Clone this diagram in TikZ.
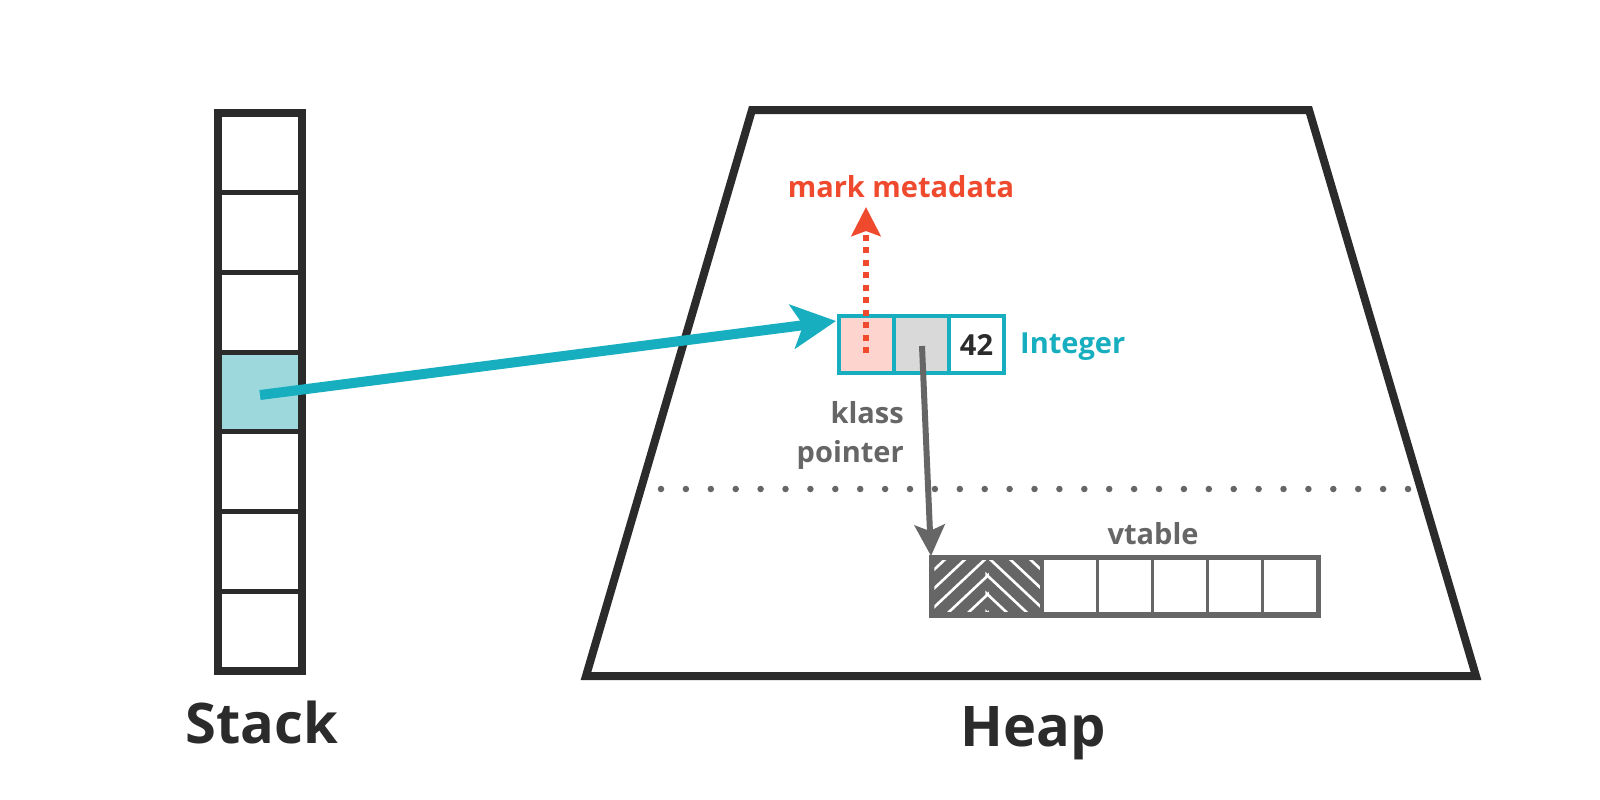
\documentclass[tikz,border=0pt]{standalone}
\usepackage{fontspec}
\setmainfont{Open Sans}
\usetikzlibrary{arrows.meta}
\definecolor{dark}{HTML}{2B2B2B}
\definecolor{tealc}{HTML}{17AFBF}
\definecolor{tealfill}{HTML}{9DD8DD}
\definecolor{redc}{HTML}{F04A2E}
\definecolor{pinkfill}{HTML}{FDD5CE}
\definecolor{lgrey}{HTML}{D9D9D9}
\definecolor{greyc}{HTML}{666666}
\tikzset{
  objcell/.style={draw=tealc, line width=4pt, minimum width=55pt, minimum height=57pt, inner sep=0pt},
  vcell/.style={draw=greyc, line width=3.5pt, minimum width=55.1pt, minimum height=56pt, inner sep=0pt},
  lbl/.style={font=\fontsize{29}{39}\selectfont\bfseries, inner sep=0pt},
  big/.style={font=\fontsize{56}{60}\selectfont\bfseries, text=dark, inner sep=0pt},
}
\begin{document}
\begin{tikzpicture}[x=1pt,y=-1pt]
\useasboundingbox[fill=white] (0,0) rectangle (1600,800);
% Stack
\fill[tealfill] (218,352.1) rectangle (302,431.8);
\foreach \y in {192.7,272.4,352.1,431.8,511.6,591.3}
  \draw[line width=5pt,dark] (218,\y) -- (302,\y);
\draw[line width=8pt,dark] (218,113) rectangle (302,671);
\coordinate (slot) at (260,395);
\node[big] (stacklbl) at (262,722) {Stack};
% Heap
\draw[line width=8pt,dark,line join=miter] (752,110) -- (1309,110) -- (1476,676) -- (586,676) -- cycle;
\node[big] (heaplbl) at (1033,733) {Heap};
% dotted separator
\coordinate (dl) at (661,489);
\coordinate (dr) at (1408,489);
\draw[greyc, line width=6.5pt, line cap=round, dash pattern=on 0pt off 24.9pt] (dl) -- (dr);
% Integer object
\node[objcell, fill=pinkfill] (mk) at (866.5,344.5) {};
\node[objcell, fill=lgrey] (kp) at (921.5,344.5) {};
\node[objcell, fill=white, lbl, text=dark] (val) at (976.5,344.5) {42};
\node[lbl, text=tealc, anchor=west] (intlbl) at (1020,347) {Integer};
% teal arrow
\coordinate (tip) at (836,321);
\draw[tealc, line width=10pt, -{Stealth[length=44pt,width=44pt,inset=11pt]}] (slot) -- (tip);
% mark metadata
\node[lbl, text=redc] (mmlbl) at (901,187) {mark metadata};
\coordinate (mmtip) at (866,207);
\draw[redc, line width=6pt, dash pattern=on 6pt off 6.5pt, -{Stealth[length=29pt,width=29pt,inset=5pt]}] (866,353) -- (mmtip);
% vtable
\foreach \i in {0,...,6}
  \node[vcell] (v\i) at (959.55+\i*55.1,586) {};
\fill[greyc] (v0.north west) rectangle (v1.south east);
\begin{scope}
  \clip ([shift={(4,4)}]v0.north west) rectangle ([shift={(0,-4)}]v0.south east);
  \foreach \k in {-4,...,4}
    \draw[white, line width=2.6pt] (987.6+\k*20,557) -- +(-80,75);
\end{scope}
\begin{scope}
  \clip ([shift={(0,4)}]v1.north west) rectangle ([shift={(-4,-4)}]v1.south east);
  \foreach \k in {-4,...,4}
    \draw[white, line width=2.6pt] (987.6+\k*20,557) -- +(80,75);
\end{scope}
\draw[greyc, line width=3.5pt] (v0.north west) rectangle (v6.south east);
\node[lbl, text=greyc] (vtlbl) at (1153,534) {vtable};
% klass pointer arrow
\coordinate (kpstart) at (922,346);
\coordinate (kptip) at (931,556);
\draw[greyc, line width=6pt, -{Stealth[length=31pt,width=30pt,inset=6pt]}] (kpstart) -- (kptip);
\node[lbl, text=greyc, align=right, anchor=east] (kplbl) at (904,435) {klass\\pointer};
\end{tikzpicture}
\end{document}
